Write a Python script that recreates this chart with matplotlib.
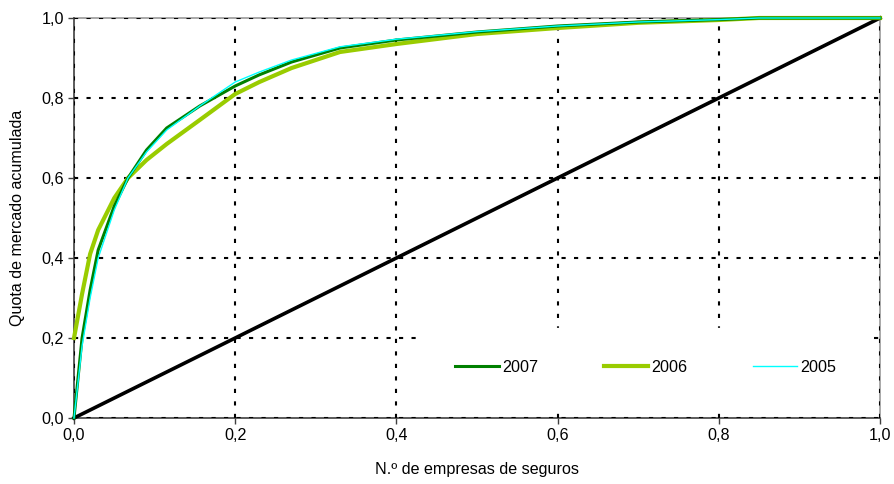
import matplotlib
matplotlib.use('Agg')
import matplotlib.pyplot as plt
from matplotlib.ticker import FuncFormatter

# Cumulative market share (Lorenz-type curves)
share_x = [0, 0.01, 0.02, 0.03, 0.05, 0.067, 0.09, 0.115, 0.156, 0.2, 0.23,
           0.27, 0.33, 0.4, 0.5, 0.6, 0.7, 0.8, 0.85, 1.0]
y2007 = [0, 0.2, 0.32, 0.42, 0.53, 0.6, 0.67, 0.725, 0.78, 0.83, 0.858,
         0.89, 0.925, 0.945, 0.965, 0.98, 0.99, 0.996, 1.0, 1.0]
y2006 = [0.2, 0.31, 0.41, 0.47, 0.55, 0.6, 0.645, 0.685, 0.745, 0.81, 0.84,
         0.875, 0.915, 0.935, 0.96, 0.975, 0.988, 0.995, 1.0, 1.0]
y2005 = [0, 0.18, 0.3, 0.4, 0.52, 0.6, 0.665, 0.72, 0.78, 0.84, 0.865,
         0.895, 0.928, 0.947, 0.966, 0.98, 0.99, 0.996, 1.0, 1.0]
diag_x = [0, 1]
diag_y = [0, 1]
ticks = [0, 0.2, 0.4, 0.6, 0.8, 1.0]

FS = 11.6
plt.rcParams['font.family'] = ['Liberation Sans', 'DejaVu Sans']
plt.rcParams['font.size'] = FS

fig = plt.figure(figsize=(8.95, 4.84), dpi=100)
ax = fig.add_axes([74 / 895, 66 / 484, 806 / 895, 400 / 484])

ax.set_xlim(0, 1)
ax.set_ylim(0, 1)
ax.set_xticks(ticks)
ax.set_yticks(ticks)
fmt = FuncFormatter(lambda v, p: f'{v:.1f}'.replace('.', ','))
ax.xaxis.set_major_formatter(fmt)
ax.yaxis.set_major_formatter(fmt)
ax.tick_params(direction='out', length=4, width=1, color='#404040', labelsize=FS, pad=3)

# grid above spines, below curves
ax.set_axisbelow(False)
ax.grid(True, color='black', linestyle=(0, (2, 4)), linewidth=1.5)
for s in ['left', 'bottom']:
    ax.spines[s].set_color('#404040')
    ax.spines[s].set_linewidth(1.2)
for s in ['top', 'right']:
    ax.spines[s].set_color('#999999')
    ax.spines[s].set_linewidth(1.2)
    ax.spines[s].set_zorder(1)

ax.plot(diag_x, diag_y, color='black', linewidth=2.6, zorder=3, clip_on=False)
ax.plot(share_x, y2006, color='#99CC00', linewidth=3.0, zorder=3.2, clip_on=False, label='2006')
ax.plot(share_x, y2007, color='#008000', linewidth=2.2, zorder=3.4, clip_on=False, label='2007')
ax.plot(share_x, y2005, color='#00FFFF', linewidth=1.0, zorder=3.6, clip_on=False, label='2005')

handles, labels = ax.get_legend_handles_labels()
order = [1, 0, 2]
leg = ax.legend([handles[i] for i in order], [labels[i] for i in order],
                loc='center', bbox_to_anchor=(0.423, 0.02, 0.572, 0.2125),
                mode='expand', ncol=3, borderpad=2.0, handlelength=2.7,
                handletextpad=0.2, columnspacing=4.0, fancybox=False,
                facecolor='white', edgecolor='white', framealpha=1,
                fontsize=FS)

ax.set_xlabel('N.º de empresas de seguros', fontsize=FS, labelpad=14)
ax.set_ylabel('Quota de mercado acumulada', fontsize=FS, labelpad=12)

fig.savefig('out.png', dpi=100)
